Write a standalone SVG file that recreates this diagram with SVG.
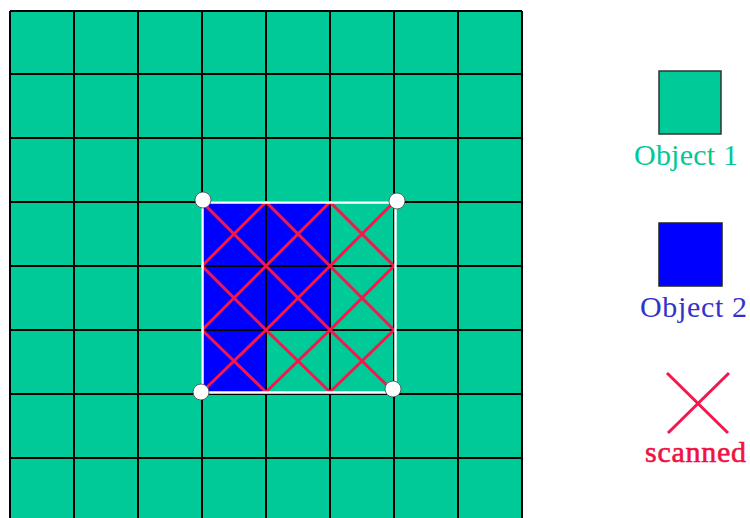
<svg xmlns="http://www.w3.org/2000/svg" width="750" height="518" viewBox="0 0 750 518">
<style>
.grid{stroke:#000;stroke-width:2;fill:none}
.x{stroke:#f5174b;stroke-width:3;fill:none}
.lbl{font-family:"Liberation Serif",serif;font-size:30px}
.dot{fill:#fff;stroke:#444;stroke-width:0.8}
</style>
<rect width="750" height="518" fill="#fff"/>
<g id="grid">
<rect x="10" y="11" width="512" height="520" fill="#00ca98"/>
<g id="object2-region">
<path d="M202 202H330V330H266V392H202Z" fill="#0000ff"/>
</g>
<path class="grid" d="M10 11V518M74 11V518M138 11V518M202 11V518M266 11V518M330 11V518M394 11V518M458 11V518M522 11V518M10 11H522M10 74H522M10 138H522M10 202H522M10 266H522M10 330H522M10 394H522M10 458H522"/>
</g>
<g id="scan-marks">
<path class="x" d="M202 202L266 266M266 202L202 266M266 202L330 266M330 202L266 266M330 202L394 266M394 202L330 266M202 266L266 330M266 266L202 330M266 266L330 330M330 266L266 330M330 266L394 330M394 266L330 330M202 330L266 392M266 330L202 392M266 330L330 392M330 330L266 392M330 330L394 392M394 330L330 392"/>
</g>
<g id="scan-window">
<rect x="202.5" y="202.5" width="193" height="190" fill="none" stroke="#fff" stroke-width="2.5"/>
<circle class="dot" cx="203" cy="200" r="8"/>
<circle class="dot" cx="397" cy="201" r="8"/>
<circle class="dot" cx="201" cy="392" r="8"/>
<circle class="dot" cx="393" cy="389" r="8"/>
</g>
<g id="legend-object1">
<rect x="659" y="71" width="62" height="63" fill="#00ca98" stroke="#333" stroke-width="1.5"/>
<text class="lbl" x="634" y="165" fill="#00c896" textLength="104">Object 1</text>
</g>
<g id="legend-object2">
<rect x="659" y="223" width="63" height="63" fill="#0000ff" stroke="#222" stroke-width="1.5"/>
<text class="lbl" x="640" y="317" fill="#3333cc" textLength="107">Object 2</text>
</g>
<g id="legend-scanned">
<path class="x" d="M667 373L728 433M729 373L668 433"/>
<text class="lbl" x="645" y="462" fill="#ee1144" stroke="#ee1144" stroke-width="0.6" textLength="101">scanned</text>
</g>
</svg>
